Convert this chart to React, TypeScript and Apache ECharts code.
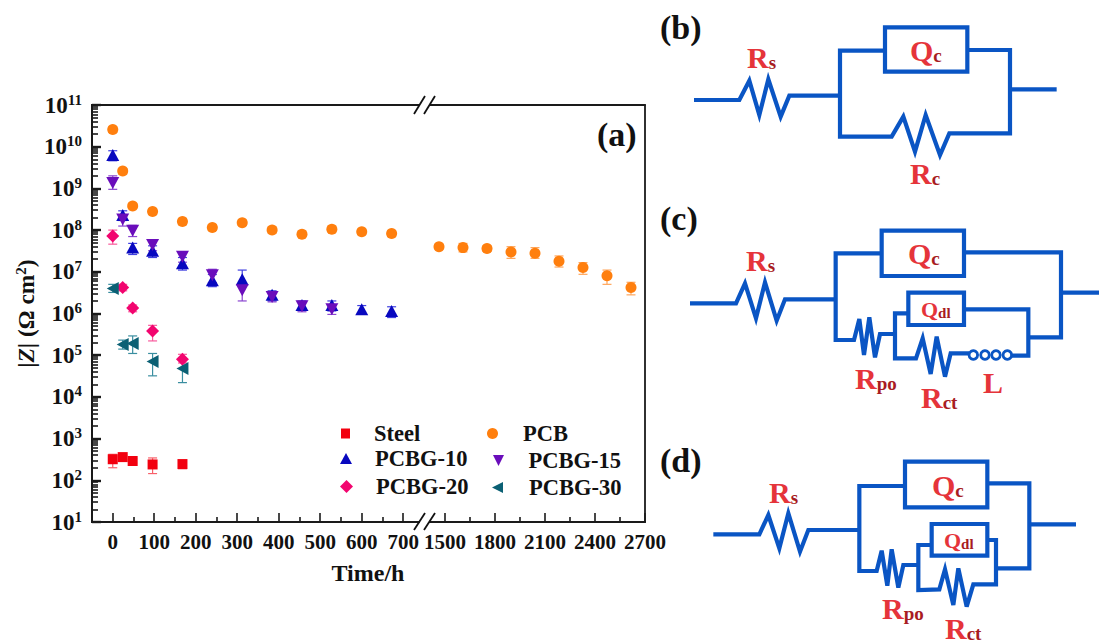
import React, { useEffect, useRef } from "react";
import * as echarts from "echarts";

const FONT = '"Liberation Serif", "Times New Roman", serif';

// ---------- tick labels ----------
const xTicksLeft = [0, 100, 200, 300, 400, 500, 600, 700];
const xMinorLeft = [50, 150, 250, 350, 450, 550, 650];
const xTicksRight = [1500, 1800, 2100, 2400, 2700];
const xMinorRight = [1650, 1950, 2250, 2550];
const yDecades = [1, 2, 3, 4, 5, 6, 7, 8, 9, 10, 11];
const yMinorMultipliers = [2, 3, 4, 5, 6, 7, 8, 9];

// ---------- data: [time (h), |Z|, error low, error high] ----------
const steel = [
  [0, 320, 200, 420],
  [24, 360, 320, 400],
  [48, 290, 260, 330],
  [96, 240, 145, 344],
  [168, 245, 190, 300],
];
const pcbEarly = [
  [0, 2.6e10, 2.2e10, 3e10],
  [24, 2.6e9, 2.2e9, 3e9],
  [48, 3.8e8, 3.3e8, 4.4e8],
  [96, 2.8e8, 2.4e8, 3.2e8],
  [168, 1.6e8, 1.35e8, 1.9e8],
  [240, 1.15e8, 1e8, 1.35e8],
  [312, 1.5e8, 1.3e8, 1.75e8],
  [384, 1e8, 8.5e7, 1.2e8],
  [456, 8e7, 7e7, 9.5e7],
  [528, 1.05e8, 9e7, 1.25e8],
  [600, 9.1e7, 7.8e7, 1.05e8],
  [672, 8.3e7, 7e7, 9.6e7],
];
const pcbLate = [
  [1464, 4e7, 3.5e7, 4.6e7],
  [1608, 3.8e7, 3e7, 4.8e7],
  [1752, 3.6e7, 3.1e7, 4.2e7],
  [1896, 3e7, 2.1e7, 4e7],
  [2040, 2.8e7, 2.1e7, 3.8e7],
  [2184, 1.8e7, 1.3e7, 2.4e7],
  [2328, 1.27e7, 8.7e6, 1.66e7],
  [2472, 8e6, 5e6, 1.1e7],
  [2616, 4.2e6, 2.8e6, 5.6e6],
];
const pcbg10 = [
  [0, 6.3e9, 4.6e9, 8e9],
  [24, 2.3e8, 1.7e8, 2.9e8],
  [48, 3.8e7, 2.6e7, 4.8e7],
  [96, 3.2e7, 2.2e7, 4.2e7],
  [168, 1.6e7, 1.1e7, 2.2e7],
  [240, 6.3e6, 4.4e6, 8.6e6],
  [312, 6.6e6, 4.5e6, 1.1e7],
  [384, 2.8e6, 2e6, 3.5e6],
  [456, 1.6e6, 1.2e6, 2e6],
  [528, 1.6e6, 1.15e6, 2e6],
  [600, 1.26e6, 9.5e5, 1.55e6],
  [672, 1.15e6, 8e5, 1.45e6],
];
const pcbg15 = [
  [0, 1.35e9, 9.5e8, 2e9],
  [24, 1.8e8, 1.25e8, 2.3e8],
  [48, 9.7e7, 7e7, 1.3e8],
  [96, 4.4e7, 3.2e7, 5.8e7],
  [168, 2.3e7, 1.7e7, 3e7],
  [240, 8.3e6, 5.5e6, 1.15e7],
  [312, 3.6e6, 2e6, 5.2e6],
  [384, 2.5e6, 1.9e6, 3.1e6],
  [456, 1.5e6, 1.1e6, 1.9e6],
  [528, 1.27e6, 9.5e5, 1.6e6],
];
const pcbg20 = [
  [0, 7.2e7, 4.6e7, 1e8],
  [24, 4.2e6, 3.5e6, 5e6],
  [48, 1.35e6, 1.1e6, 1.6e6],
  [96, 3.8e5, 2.2e5, 5.2e5],
  [168, 8e4, 6.5e4, 1.05e5],
];
const pcbg30 = [
  [0, 4e6, 3.2e6, 5e6],
  [24, 1.8e5, 1.4e5, 2.3e5],
  [48, 1.9e5, 1.1e5, 2.9e5],
  [96, 7.1e4, 3.2e4, 1.1e5],
  [168, 4.8e4, 2.2e4, 8.3e4],
];

const BLUE = "#0a55c4";
const AXIS = "#1a1a1a";

// ---------- equivalent-circuit geometry, in panel coordinates at 3x ----------
type Pts = number[][];
const circuitB = {
  origin: [660, 0],
  wires: [
    [[102, 300], [238, 300], [268, 242], [298, 345], [325, 238], [362, 350], [388, 287], [540, 287]],
    [[675, 152], [540, 152], [540, 410], [695, 410], [730, 350], [765, 455], [797, 345], [840, 465], [868, 400], [1050, 400], [1050, 150], [925, 150]],
    [[1050, 268], [1190, 268]],
  ] as Pts[],
  boxes: [[675, 82, 247, 133]],
  coil: [] as number[][],
};
const circuitC = {
  origin: [660, 200],
  wires: [
    [[90, 310], [228, 310], [255, 250], [288, 355], [315, 247], [350, 362], [375, 298], [525, 298]],
    [[662, 160], [527, 160], [527, 420], [582, 420], [598, 357], [612, 465], [628, 352], [645, 472], [660, 402], [705, 402]],
    [[915, 157], [1203, 157], [1203, 412], [1108, 412]],
    [[1205, 278], [1317, 278]],
    [[745, 340], [705, 340], [705, 475], [768, 475], [788, 415], [812, 522], [830, 410], [855, 530], [872, 460], [927, 460]],
    [[915, 328], [1105, 328], [1105, 467], [1055, 467]],
  ] as Pts[],
  boxes: [[665, 92, 247, 136], [745, 278, 167, 97]],
  coil: [[940, 465], [975, 465], [1008, 465], [1042, 465]],
};
const circuitD = {
  origin: [660, 430],
  wires: [
    [[160, 313], [298, 313], [325, 255], [358, 355], [385, 250], [420, 365], [445, 300], [598, 300]],
    [[735, 168], [598, 168], [598, 423], [650, 423], [665, 362], [682, 467], [695, 358], [715, 473], [730, 405], [775, 405]],
    [[985, 160], [1108, 160], [1108, 415], [1010, 415]],
    [[1108, 283], [1248, 283]],
    [[815, 345], [775, 345], [775, 480], [838, 478], [855, 418], [880, 525], [895, 415], [920, 530], [940, 463], [1008, 463], [1008, 330], [985, 330]],
  ] as Pts[],
  boxes: [[735, 95, 247, 137], [815, 282, 167, 95]],
  coil: [] as number[][],
};

// [text, subscript, x, y, size, subscript size]
const circuitLabels: [string, string, number, number, number, number][] = [
  ["R", "s", 747, 57, 30, 19],
  ["Q", "c", 910, 50, 30, 19],
  ["R", "c", 910, 173, 30, 19],
  ["R", "s", 746, 260, 30, 19],
  ["Q", "c", 908, 253, 30, 19],
  ["Q", "dl", 921, 309, 22, 15],
  ["R", "po", 855, 378, 30, 19],
  ["R", "ct", 921, 397, 30, 19],
  ["L", "", 983, 382, 30, 19],
  ["R", "s", 769, 492, 30, 19],
  ["Q", "c", 932, 485, 30, 19],
  ["Q", "dl", 944, 540, 22, 15],
  ["R", "po", 882, 608, 30, 19],
  ["R", "ct", 945, 628, 30, 19],
];
const panelTags: [string, number, number, number][] = [
  ["(a)", 597, 134, 34],
  ["(b)", 660, 27, 34],
  ["(c)", 660, 218, 34],
  ["(d)", 660, 460, 34],
];
const breakMarks = [
  [414, 114, 425, 96],
  [424, 114, 435, 96],
  [414, 530, 425, 513],
  [424, 530, 435, 513],
];

const circuitGraphics = (c: typeof circuitB) => {
  const [ox, oy] = c.origin;
  const pt = (p: number[]) => [ox + p[0] / 3, oy + p[1] / 3];
  const out: any[] = [];
  c.wires.forEach((w) =>
    out.push({
      type: "polyline",
      shape: { points: w.map(pt) },
      style: { stroke: BLUE, lineWidth: 4.2, fill: "transparent", lineJoin: "miter" },
    })
  );
  c.boxes.forEach(([x, y, w, h]) =>
    out.push({
      type: "rect",
      shape: { x: ox + x / 3, y: oy + y / 3, width: w / 3, height: h / 3 },
      style: { stroke: BLUE, lineWidth: 4.2, fill: "transparent" },
    })
  );
  c.coil.forEach((p) => {
    const [cx, cy] = pt(p);
    out.push({
      type: "circle",
      shape: { cx, cy, r: 4.3 },
      style: { stroke: BLUE, lineWidth: 2.8, fill: "#fff" },
    });
  });
  return out;
};

const markers: Record<string, any> = {
  Steel: { color: "#f2000f", symbol: "rect", size: [10, 10], err: "#f8606a", legend: [341, 422, 19, 9, 10] },
  PCB: { color: "#ff7f0e", symbol: "circle", size: 11, err: "#ffa65c", legend: [487, 422, 20, 11, 11] },
  "PCBG-10": { color: "#0808bf", symbol: "triangle", size: [13, 12], err: "#3f3fe0", legend: [340, 447, 18, 12, 11] },
  "PCBG-15": { color: "#6a0dbb", symbol: "triangle", icon: "path://M0,0L10,0L5,10Z", rotate: 180, size: [13, 12], err: "#8a45d0", legend: [493, 449, 19, 12, 11] },
  "PCBG-20": { color: "#f2056f", symbol: "diamond", size: [13, 13], err: "#f85a9c", legend: [340, 475, 18, 13, 13] },
  "PCBG-30": { color: "#0b6074", symbol: "triangle", icon: "path://M10,0L10,10L0,5Z", rotate: 90, size: [13, 12], err: "#3a8ea0", legend: [492, 476, 21, 11, 11] },
};

const points = (name: string, rows: number[][], axis: number) => [
  {
    type: "custom",
    name: name + " error",
    xAxisIndex: axis,
    yAxisIndex: axis === 0 ? 0 : 2,
    silent: true,
    z: 2,
    clip: false,
    data: rows.map((r) => [r[0], r[2], r[3]]),
    encode: { x: 0, y: [1, 2] },
    renderItem: (_: any, api: any) => {
      const lo = api.coord([api.value(0), api.value(1)]);
      const hi = api.coord([api.value(0), api.value(2)]);
      const s = { stroke: markers[name].err, lineWidth: 1.2 };
      const cap = 4.5;
      return {
        type: "group",
        children: [
          { type: "line", shape: { x1: lo[0], y1: lo[1], x2: hi[0], y2: hi[1] }, style: s },
          { type: "line", shape: { x1: lo[0] - cap, y1: lo[1], x2: lo[0] + cap, y2: lo[1] }, style: s },
          { type: "line", shape: { x1: hi[0] - cap, y1: hi[1], x2: hi[0] + cap, y2: hi[1] }, style: s },
        ],
      };
    },
  },
  {
    type: "scatter",
    name,
    xAxisIndex: axis,
    yAxisIndex: axis === 0 ? 0 : 2,
    z: 3,
    symbol: markers[name].symbol,
    symbolRotate: markers[name].rotate || 0,
    symbolSize: markers[name].size,
    itemStyle: { color: markers[name].color, opacity: 1 },
    data: rows.map((r) => [r[0], r[1]]),
  },
];

const option = (): any => {
  const labelStyle = { fontFamily: FONT, fontWeight: "bold", fontSize: 21, color: "#111" };
  const yMinor: number[] = [];
  yDecades.slice(0, -1).forEach((d) =>
    yMinorMultipliers.forEach((m) => yMinor.push(d + Math.log10(m)))
  );
  const line = { show: true, onZero: false, lineStyle: { color: AXIS, width: 1.8 } };
  const xBase = (gridIndex: number, min: number, max: number) => ({
    type: "value",
    gridIndex,
    min,
    max,
    splitLine: { show: false },
  });
  const xMain = (g: number, min: number, max: number, ticks: number[]) => ({
    ...xBase(g, min, max),
    position: "bottom",
    axisLine: line,
    axisTick: { show: true, inside: true, length: 9, customValues: ticks, lineStyle: { color: AXIS, width: 1.6 } },
    axisLabel: { ...labelStyle, margin: 9, customValues: ticks, formatter: (v: number) => String(v), hideOverlap: false },
  });
  const xMinor = (g: number, min: number, max: number, ticks: number[]) => ({
    ...xBase(g, min, max),
    position: "bottom",
    axisLine: line,
    axisTick: { show: true, inside: true, length: 5, customValues: ticks, lineStyle: { color: AXIS, width: 1.6 } },
    axisLabel: { show: false },
  });
  const xTop = (g: number, min: number, max: number) => ({
    ...xBase(g, min, max),
    position: "top",
    axisLine: line,
    axisTick: { show: false },
    axisLabel: { show: false },
  });
  const L0 = -50, L1 = 738, R0 = 1410, R1 = 2700;

  const graphic: any[] = [
    ...breakMarks.map(([x1, y1, x2, y2]) => ({
      type: "line",
      z: 20,
      shape: { x1, y1, x2, y2 },
      style: { stroke: "#111", lineWidth: 1.8 },
    })),
    ...circuitGraphics(circuitB),
    ...circuitGraphics(circuitC),
    ...circuitGraphics(circuitD),
    ...panelTags.map(([t, x, y, size]) => ({
      type: "text",
      x,
      y,
      style: { text: t, fontFamily: FONT, fontWeight: "bold", fontSize: size, fill: "#111", verticalAlign: "middle" },
    })),
    ...circuitLabels.map(([t, sub, x, y, size, subSize]) => ({
      type: "text",
      x,
      y,
      z: 10,
      style: {
        text: sub ? `{m|${t}}{s|${sub}}` : `{m|${t}}`,
        verticalAlign: "middle",
        rich: {
          m: { fontFamily: FONT, fontWeight: "bold", fontSize: size, fill: "#e5343a", lineHeight: size },
          s: { fontFamily: FONT, fontWeight: "bold", fontSize: subSize, fill: "#a81c22", verticalAlign: "bottom", lineHeight: subSize, padding: [Math.round(size * 0.32), 0, 0, 0] },
        },
      },
    })),
    {
      type: "text",
      x: 368,
      y: 573,
      style: { text: "Time/h", fontFamily: FONT, fontWeight: "bold", fontSize: 24, fill: "#111", align: "center", verticalAlign: "middle" },
    },
  ];

  return {
    animation: false,
    backgroundColor: "#fff",
    textStyle: { fontFamily: FONT },
    grid: [
      { left: 92, top: 105, width: 327, height: 417 },
      { left: 430, top: 105, width: 215, height: 417 },
    ],
    xAxis: [
      xMain(0, L0, L1, xTicksLeft),
      xMinor(0, L0, L1, xMinorLeft),
      xTop(0, L0, L1),
      xMain(1, R0, R1, xTicksRight),
      xMinor(1, R0, R1, xMinorRight),
      xTop(1, R0, R1),
    ],
    yAxis: [
      {
        type: "log",
        gridIndex: 0,
        logBase: 10,
        min: 10,
        max: 1e11,
        position: "left",
        name: "{n||}{i|Z}{n|| (Ω cm}{u|2}{n|)}",
        nameLocation: "middle",
        nameGap: 54,
        nameRotate: 90,
        nameTextStyle: {
          rich: {
            n: { fontFamily: FONT, fontWeight: "bold", fontSize: 23.5, color: "#111" },
            i: { fontFamily: FONT, fontWeight: "bold", fontStyle: "italic", fontSize: 23.5, color: "#111" },
            u: { fontFamily: FONT, fontWeight: "bold", fontSize: 15, color: "#111", padding: [0, 0, 10, 0] },
          },
        },
        splitLine: { show: false },
        axisLine: line,
        axisTick: { show: false },
        axisLabel: { show: false },
      },
      {
        type: "value",
        gridIndex: 0,
        min: 1,
        max: 11,
        interval: 1,
        position: "left",
        splitLine: { show: false },
        axisLine: line,
        axisTick: { show: true, inside: true, length: 9, lineStyle: { color: AXIS, width: 2.4 } },
        axisLabel: {
          margin: 10,
          showMinLabel: true,
          showMaxLabel: true,
          formatter: (v: number) => `{b|10}{s|${v}}`,
          rich: {
            b: { ...labelStyle, fontSize: 23 },
            s: { ...labelStyle, fontSize: 15, padding: [0, 0, 11, 0] },
          },
        },
      },
      {
        type: "log",
        gridIndex: 1,
        logBase: 10,
        min: 10,
        max: 1e11,
        position: "right",
        splitLine: { show: false },
        axisLine: line,
        axisTick: { show: false },
        axisLabel: { show: false },
      },
      {
        type: "value",
        gridIndex: 0,
        min: 1,
        max: 11,
        position: "left",
        splitLine: { show: false },
        axisLine: line,
        axisLabel: { show: false },
        axisTick: { show: true, inside: true, length: 6, customValues: yMinor, lineStyle: { color: AXIS, width: 1.6 } },
      },
    ],
    legend: Object.keys(markers).map((name) => {
      const [left, top, pad, w, h] = markers[name].legend;
      return {
        data: [{ name, icon: markers[name].icon || markers[name].symbol }],
        left,
        top,
        padding: 0,
        itemWidth: w,
        itemHeight: h,
        selectedMode: false,
        textStyle: { fontFamily: FONT, fontWeight: "bold", fontSize: 22.5, color: "#111", padding: [0, 0, 0, pad] },
      };
    }),
    series: [
      ...points("Steel", steel, 0),
      ...points("PCB", pcbEarly, 0),
      ...points("PCB", pcbLate, 3),
      ...points("PCBG-10", pcbg10, 0),
      ...points("PCBG-15", pcbg15, 0),
      ...points("PCBG-20", pcbg20, 0),
      ...points("PCBG-30", pcbg30, 0),
    ],
    graphic,
  };
};

export default function App() {
  const ref = useRef<HTMLDivElement>(null);
  useEffect(() => {
    document.body.style.margin = "0";
    const chart = echarts.init(ref.current!, undefined, { renderer: "svg" });
    chart.setOption(option());
    return () => chart.dispose();
  }, []);
  return <div ref={ref} style={{ width: 1099, height: 644 }} />;
}
